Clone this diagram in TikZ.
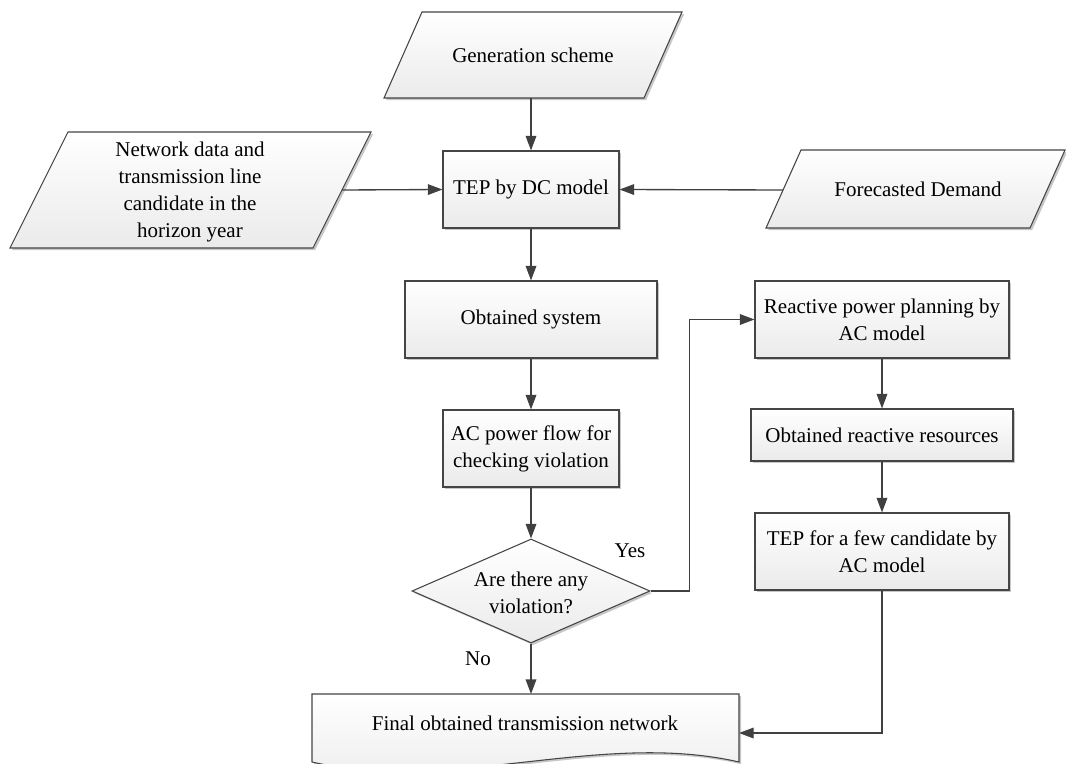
\documentclass[tikz,border=0pt]{standalone}
\usepackage{fontspec}
\setmainfont{Liberation Serif}
\newfontfamily\tnr{Liberation Serif}
\usetikzlibrary{shapes.geometric,arrows.meta,shadows,calc}
\definecolor{edge}{HTML}{454545}
\definecolor{line}{HTML}{404040}
\begin{document}
\begin{tikzpicture}[x=0.75pt,y=-0.75pt,
  every node/.style={font=\tnr\fontsize{15.75}{20.25}\selectfont, text=black},
  fillshade/.style={top color=white, bottom color=black!8, draw=edge, line width=0.8pt,
     drop shadow={shadow xshift=1.6pt, shadow yshift=-1.6pt, opacity=0.22, fill=black}},
  procbox/.style={fillshade, rectangle, align=center, inner sep=2pt},
  decbox/.style={fillshade, diamond, inner sep=0pt},
  lbl/.style={align=center, inner sep=0pt},
  arr/.style={draw=line, line width=1pt, -{Triangle[length=11pt,width=8pt]}}
]
\useasboundingbox (0,0) rectangle (1066,763);

% ---- input parallelograms ----
\path[fillshade] (422,12) -- (682,12) -- (644,98) -- (384,98) -- cycle;
\node[lbl] (gen) at (533,55) {Generation scheme};
\coordinate (gen-s) at (531,98);

\path[fillshade] (68,132) -- (371,132) -- (313,248) -- (10,248) -- cycle;
\node[lbl] (net) at (190,192) {Network data and\\transmission line\\candidate in the\\horizon year};
\coordinate (net-e) at (342,190);

\path[fillshade] (801,150) -- (1065,150) -- (1030,228) -- (766,228) -- cycle;
\node[lbl] (fd) at (918,189) {Forecasted Demand};
\coordinate (fd-w) at (783,190);

% ---- process boxes ----
\node[procbox, minimum width=132pt, minimum height=57.75pt] (tep) at (531,189.5) {TEP by DC model};
\node[procbox, minimum width=189pt, minimum height=57.75pt] (obs) at (531,319.5) {Obtained system};
\node[procbox, minimum width=132pt, minimum height=57.75pt] (acpf) at (531,448.5) {AC power flow for\\checking violation};
\node[decbox, minimum width=178.5pt, minimum height=78pt] (dec) at (531,591) {};
\node[lbl] (dect) at (531,593) {Are there any\\violation?};

\node[procbox, minimum width=190.5pt, minimum height=57.75pt] (rp) at (882,319.5) {Reactive power planning by\\AC model};
\node[procbox, minimum width=196.5pt, minimum height=39pt] (orr) at (882,435) {Obtained reactive resources};
\node[procbox, minimum width=190.5pt, minimum height=57.75pt] (tepf) at (882,551.5) {TEP for a few candidate by\\AC model};

% ---- document shape ----
\path[fillshade] (312,694) -- (739,694) -- (739,762)
   .. controls (600,730) and (451,794) .. (312,762) -- cycle;
\node[lbl] (doc) at (525,723) {Final obtained transmission network};
\coordinate (doc-n) at (531,694);
\coordinate (doc-e) at (739,733);

% ---- connectors ----
\draw[arr] (gen-s) -- (tep.north);
\draw[arr] (net-e) -- (tep.west);
\draw[arr] (fd-w) -- (tep.east);
\draw[arr] (tep.south) -- (obs.north);
\draw[arr] (obs.south) -- (acpf.north);
\draw[arr] (acpf.south) -- (dec.north);
\draw[arr] (dec.east) -- ++(39,0) |- (rp.west);
\draw[arr] (rp.south) -- (orr.north);
\draw[arr] (orr.south) -- (tepf.north);
\draw[arr] (tepf.south) |- (doc-e);
\draw[arr] (dec.south) -- (doc-n);

\node[lbl] (yes) at (630,551) {Yes};
\node[lbl] (no) at (478,659) {No};
\end{tikzpicture}
\end{document}
